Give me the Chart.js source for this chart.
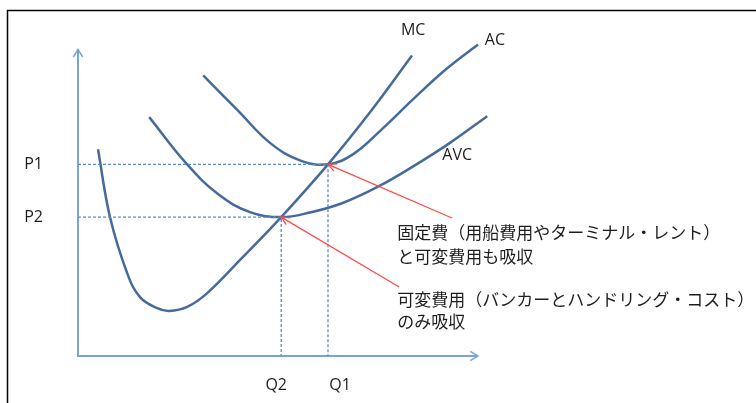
<!DOCTYPE html>
<html>
<head>
<meta charset="utf-8">
<script src="https://cdn.jsdelivr.net/npm/chart.js@4.4.1/dist/chart.umd.min.js"></script>
<style>
  html, body { margin: 0; padding: 0; background: #fff; }
  #wrap { width: 756px; height: 403px; }
</style>
</head>
<body>
<div id="wrap"><canvas id="costChart" width="756" height="403"></canvas></div>
<script>
// curve points, quantity on x, cost on y (axes run 0..10)
const mcX = [0.50, 0.80, 1.23, 1.55, 1.98, 2.28, 2.73, 3.23, 4.10, 5.08, 6.25, 7.30, 8.35];
const mcY = [6.74, 4.53, 2.70, 1.92, 1.56, 1.47, 1.60, 2.05, 3.20, 4.53, 6.25, 7.95, 9.80];

const acX = [3.13, 4.00, 4.80, 5.55, 6.25, 6.90, 7.60, 8.40, 9.20, 10.0];
const acY = [9.15, 8.00, 6.95, 6.38, 6.25, 6.60, 7.40, 8.40, 9.35, 10.16];

const avcX = [1.78, 2.70, 3.50, 4.30, 5.08, 5.80, 6.60, 7.50, 8.40, 9.30, 10.23];
const avcY = [7.79, 6.29, 5.28, 4.69, 4.53, 4.68, 4.98, 5.52, 6.20, 6.95, 7.82];

const Q1 = 6.25, P1 = 6.25; // min of AC
const Q2 = 5.08, P2 = 4.53; // min of AVC

const priceTicks = [P2, P1];
const priceLabels = ["P2", "P1"];
const qtyTicks = [Q2, Q1];
const qtyLabels = ["Q2", "Q1"];

const noteFixed = ["固定費（用船費用やターミナル・レント）", "と可変費用も吸収"];
const noteVariable = ["可変費用（バンカーとハンドリング・コスト）", "のみ吸収"];
// where the red arrows start (they end on the two minimum points)
const arrowFixedFrom = [9.35, 4.50];
const arrowVariableFrom = [8.03, 2.25];

const curveColor = "#456b9b";
const axisColor = "#7ba3d5";
const guideColor = "#5b8cca";
const redColor = "#ff4a4a";
const textColor = "#1e1e1e";
const latinFont = "'Open Sans', 'Liberation Sans', sans-serif";
const jpFont = "'Noto Sans CJK JP', sans-serif";

function toPoints(xs, ys) {
  return xs.map((x, i) => ({ x: x, y: ys[i] }));
}

function curve(label, xs, ys) {
  return {
    label: label,
    data: toPoints(xs, ys),
    borderColor: curveColor,
    borderWidth: 2.5,
    pointRadius: 0,
    fill: false,
    tension: 0.4,
  };
}

function guide(q, p) {
  return {
    label: "guide",
    data: [{ x: 0, y: p }, { x: q, y: p }, { x: q, y: 0 }],
    borderColor: guideColor,
    borderWidth: 1.3,
    borderDash: [3, 2],
    pointRadius: 0,
    fill: false,
    tension: 0,
  };
}

function chevron(ctx, fromX, fromY, toX, toY, len, spread) {
  const ang = Math.atan2(toY - fromY, toX - fromX);
  ctx.beginPath();
  ctx.moveTo(toX - len * Math.cos(ang - spread), toY - len * Math.sin(ang - spread));
  ctx.lineTo(toX, toY);
  ctx.lineTo(toX - len * Math.cos(ang + spread), toY - len * Math.sin(ang + spread));
  ctx.stroke();
}

const decorations = {
  id: "decorations",
  beforeDraw(chart) {
    const ctx = chart.ctx;
    ctx.save();
    ctx.fillStyle = "#fff";
    ctx.fillRect(0, 0, chart.width, chart.height);
    // picture frame
    ctx.strokeStyle = "#000";
    ctx.lineWidth = 1.5;
    ctx.beginPath();
    ctx.moveTo(7.5, chart.height);
    ctx.lineTo(7.5, 10.5);
    ctx.lineTo(chart.width, 10.5);
    ctx.stroke();
    ctx.restore();
  },
  beforeDatasetsDraw(chart) {
    const ctx = chart.ctx;
    const xs = chart.scales.x, ys = chart.scales.y;
    const x0 = xs.getPixelForValue(0), y0 = ys.getPixelForValue(0);
    const xEnd = xs.getPixelForValue(10), yEnd = ys.getPixelForValue(10);
    ctx.save();
    ctx.strokeStyle = axisColor;
    ctx.lineWidth = 2;
    ctx.beginPath();
    ctx.moveTo(x0, yEnd);
    ctx.lineTo(x0, y0);
    ctx.lineTo(xEnd, y0);
    ctx.stroke();
    ctx.lineWidth = 1.5;
    chevron(ctx, x0, y0, x0, yEnd, 9, 0.55);
    chevron(ctx, x0, y0, xEnd, y0, 9, 0.55);
    ctx.restore();
  },
  afterDatasetsDraw(chart) {
    const ctx = chart.ctx;
    const xs = chart.scales.x, ys = chart.scales.y;
    const px = (v) => xs.getPixelForValue(v);
    const py = (v) => ys.getPixelForValue(v);
    ctx.save();

    // red arrows
    ctx.strokeStyle = redColor;
    ctx.lineWidth = 1.3;
    [[arrowFixedFrom, Q1, P1], [arrowVariableFrom, Q2, P2]].forEach(([from, q, p]) => {
      const fx = px(from[0]), fy = py(from[1]);
      const tx = px(q), ty = py(p);
      ctx.beginPath();
      ctx.moveTo(fx, fy);
      ctx.lineTo(tx, ty);
      ctx.stroke();
      chevron(ctx, fx, fy, tx, ty, 9, 0.45);
    });

    // curve names
    ctx.fillStyle = textColor;
    ctx.font = "16px " + latinFont;
    ctx.textBaseline = "middle";
    ctx.textAlign = "center";
    ctx.fillText("MC", px(8.38), py(10.63));
    ctx.textAlign = "left";
    ctx.fillText("AC", px(10.17), py(10.30));
    ctx.textAlign = "center";
    ctx.fillText("AVC", px(9.48), py(6.55));

    // quantity labels sit a little off their guide lines in the original
    const qNudge = [-5, 12];
    qtyTicks.forEach((q, i) => {
      ctx.fillText(qtyLabels[i], px(q) + qNudge[i], ys.bottom + 29);
    });

    // notes
    ctx.font = "17px " + jpFont;
    ctx.textAlign = "left";
    ctx.fillText(noteFixed[0], px(7.98), py(4.01));
    ctx.fillText(noteFixed[1], px(7.98), py(3.23));
    ctx.fillText(noteVariable[0], px(7.98), py(1.83));
    ctx.fillText(noteVariable[1], px(7.98), py(1.11));
    ctx.restore();
  },
};

const ctx = document.getElementById("costChart").getContext("2d");
new Chart(ctx, {
  type: "line",
  data: {
    datasets: [
      guide(Q1, P1),
      guide(Q2, P2),
      curve("MC", mcX, mcY),
      curve("AC", acX, acY),
      curve("AVC", avcX, avcY),
    ],
  },
  options: {
    responsive: false,
    animation: false,
    events: [],
    layout: { padding: { left: 0, right: 258, top: 34, bottom: 0 } },
    plugins: {
      legend: { display: false },
      tooltip: { enabled: false },
    },
    scales: {
      x: {
        type: "linear",
        min: 0,
        max: 10.5,
        grid: { display: false, drawTicks: false },
        border: { display: false },
        afterBuildTicks: (scale) => {
          scale.ticks = qtyTicks.map((v) => ({ value: v }));
        },
        afterFit: (scale) => {
          scale.height = 47;
          scale.paddingLeft = 0;
          scale.paddingRight = 0;
        },
        ticks: { display: false },
      },
      y: {
        type: "linear",
        min: 0,
        max: 10.5,
        grid: { display: false, drawTicks: false },
        border: { display: false },
        afterBuildTicks: (scale) => {
          scale.ticks = priceTicks.map((v) => ({ value: v }));
        },
        afterFit: (scale) => {
          scale.width = 78;
          scale.paddingTop = 0;
          scale.paddingBottom = 0;
        },
        ticks: {
          autoSkip: false,
          padding: 35,
          color: textColor,
          font: { family: latinFont, size: 16 },
          callback: (value) => priceLabels[priceTicks.indexOf(value)],
        },
      },
    },
  },
  plugins: [decorations],
});
</script>
</body>
</html>
